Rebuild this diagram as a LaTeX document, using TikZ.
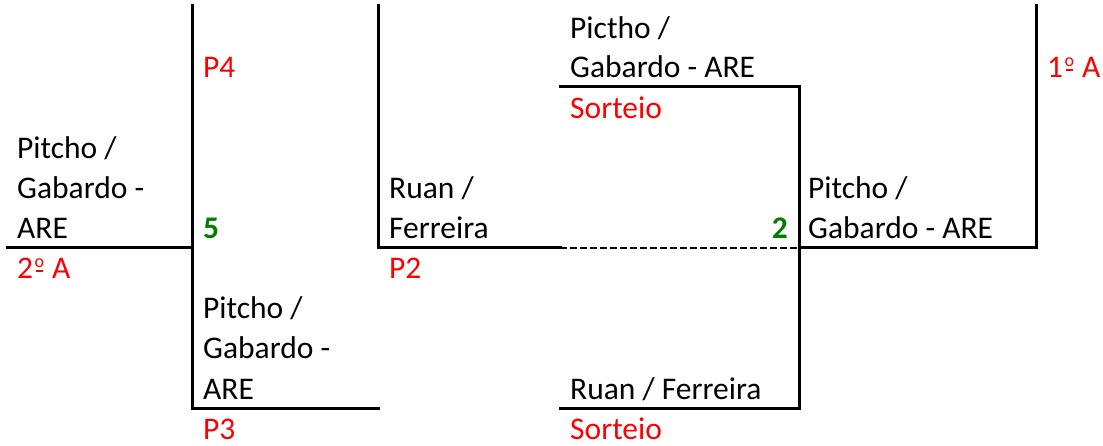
\documentclass[tikz,border=0pt]{standalone}
\usepackage{fontspec}
\setmainfont{Carlito}
\definecolor{xlred}{RGB}{255,0,0}
\definecolor{xlgreen}{RGB}{0,128,0}
\newcommand\myord{\kern1.5pt\rlap{\raisebox{11pt}{\fontsize{18}{18}\selectfont o}}\kern1pt\rule[7pt]{7.8pt}{1.5pt}\kern1.5pt}
\begin{document}
\begin{tikzpicture}[x=1pt,y=-1pt,
  lbl/.style={anchor=base west,inner sep=0pt,font=\fontsize{31.5}{40}\selectfont},
  red/.style={lbl,text=xlred},
  score/.style={lbl,text=xlgreen,font=\fontsize{31.5}{40}\selectfont\bfseries},
  br/.style={line width=3pt,line cap=rect},
  dsh/.style={line width=2pt,dash pattern=on 7pt off 3pt}]
\useasboundingbox (0,0) rectangle (1103,446);
% coordinates
\coordinate (a1) at (7,248);
\coordinate (a2) at (192,248);
\coordinate (b1) at (192,6);
\coordinate (b2) at (192,408);
\coordinate (b3) at (378,408);
\coordinate (c1) at (378,6);
\coordinate (c2) at (378,248);
\coordinate (c3) at (560,248);
\coordinate (d1) at (560,87);
\coordinate (d2) at (799,87);
\coordinate (d3) at (799,408);
\coordinate (d4) at (560,408);
\coordinate (d5) at (799,248);
\coordinate (e1) at (1036,248);
\coordinate (e2) at (1036,6);
% lines
\draw[br] (a1) -- (a2);
\draw[br] (b1) -- (b2) -- (b3);
\draw[br] (c1) -- (c2) -- (c3);
\draw[dsh] (c3) -- (d5);
\draw[br] (d1) -- (d2) -- (d3) -- (d4);
\draw[br] (d5) -- (e1) -- (e2);
% texts
\node[lbl] (t1a) at (17,159) {Pitcho /};
\node[lbl] (t1b) at (17,199) {Gabardo -};
\node[lbl] (t1c) at (17,239) {ARE};
\node[red] (r1) at (17,279) {2\myord\ A};
\node[red] (p4) at (203,78) {P4};
\node[score] (s5) at (203,239) {5};
\node[lbl] (t2a) at (203,319) {Pitcho /};
\node[lbl] (t2b) at (203,359) {Gabardo -};
\node[lbl] (t2c) at (203,399) {ARE};
\node[red] (p3) at (203,439) {P3};
\node[lbl] (t3a) at (389,199) {Ruan /};
\node[lbl] (t3b) at (389,239) {Ferreira};
\node[red] (p2) at (389,279) {P2};
\node[lbl] (t4a) at (570,39) {Pictho /};
\node[lbl] (t4b) at (570,78) {Gabardo - ARE};
\node[red] (so1) at (570,119) {Sorteio};
\node[lbl] (t5) at (570,399) {Ruan / Ferreira};
\node[red] (so2) at (570,439) {Sorteio};
\node[score,anchor=base east] (s2) at (788,239) {2};
\node[lbl] (t6a) at (808,199) {Pitcho /};
\node[lbl] (t6b) at (808,239) {Gabardo - ARE};
\node[red] (r2) at (1047,78) {1\myord\ A};
\end{tikzpicture}
\end{document}
